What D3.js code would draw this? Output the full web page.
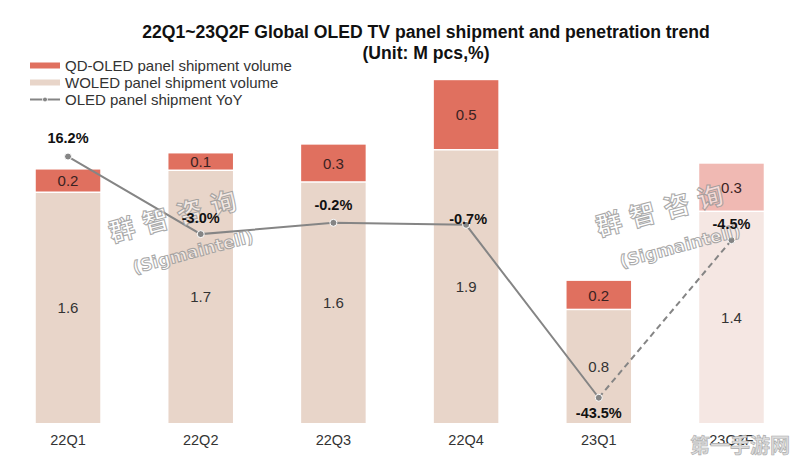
<!DOCTYPE html>
<html><head><meta charset="utf-8">
<script src="https://cdn.jsdelivr.net/npm/d3@7"></script>
<style>
html,body{margin:0;padding:0;background:#fff;}
svg{display:block;font-family:"Liberation Sans",Arial,sans-serif;}
</style></head>
<body><svg id="c" width="796" height="463"></svg>
<script>
const categories = ["22Q1","22Q2","22Q3","22Q4","23Q1","23Q2F"];
const woledValues = [1.57, 1.72, 1.64, 1.86, 0.77, 1.44];
const qdoledValues = [0.16, 0.12, 0.26, 0.48, 0.20, 0.33];
const yoyValues = [16.2, -3.0, -0.2, -0.7, -43.5, -4.5];
const forecast = [false,false,false,false,false,true];

const svg = d3.select("#c");

const x = d3.scaleBand().domain(categories).range([2.6, 796.9]).paddingInner(0.514).paddingOuter(0.25);
const y = d3.scaleLinear().domain([0, 2.5]).range([423, 423 - 2.5*146.5]);
const y2 = d3.scaleLinear().domain([-50, 20]).range([424, 141.2]);

const colQD = "#E0705F", colWO = "#E8D5C9", colQDf = "#F0B9B3", colWOf = "#F5E7E3";
const fmt = v => v.toFixed(1);

// Title
svg.append("text").attr("x", 426).attr("y", 38).attr("text-anchor","middle")
  .attr("font-size", 17.6).attr("font-weight","bold").attr("fill","#111")
  .text("22Q1~23Q2F Global OLED TV panel shipment and penetration trend");
svg.append("text").attr("x", 426).attr("y", 59).attr("text-anchor","middle")
  .attr("font-size", 17.6).attr("font-weight","bold").attr("fill","#111")
  .text("(Unit: M pcs,%)");

// Bars
const rows = categories.map((c,i)=>({c, wo: woledValues[i], qd: qdoledValues[i], f: forecast[i]}));
const gBars = svg.append("g");
gBars.selectAll("rect.wo").data(rows).join("rect").attr("class","wo")
  .attr("x", d=>x(d.c)).attr("width", x.bandwidth())
  .attr("y", d=>y(d.wo)).attr("height", d=>y(0)-y(d.wo))
  .attr("fill", d=>d.f?colWOf:colWO);
gBars.selectAll("rect.qd").data(rows).join("rect").attr("class","qd")
  .attr("x", d=>x(d.c)).attr("width", x.bandwidth())
  .attr("y", d=>y(d.wo+d.qd)).attr("height", d=>y(d.wo)-y(d.wo+d.qd)-1.5)
  .attr("fill", d=>d.f?colQDf:colQD);

gBars.selectAll("text.wo").data(rows).join("text").attr("class","wo")
  .attr("x", d=>x(d.c)+x.bandwidth()/2).attr("y", d=>(y(d.wo)+y(0))/2+5)
  .attr("text-anchor","middle").attr("font-size",15).attr("fill","#333")
  .text(d=>fmt(d.wo));
gBars.selectAll("text.qd").data(rows).join("text").attr("class","qd")
  .attr("x", d=>x(d.c)+x.bandwidth()/2).attr("y", d=>(y(d.wo)+y(d.wo+d.qd))/2+5)
  .attr("text-anchor","middle").attr("font-size",15).attr("fill","#3a2222")
  .text(d=>fmt(d.qd));

// Category axis
const ax = svg.append("g").attr("transform","translate(0,431)").call(d3.axisBottom(x).tickSize(0).tickPadding(4));
ax.select(".domain").remove();
ax.selectAll("text").attr("font-size",14.5).attr("fill","#333").attr("font-family","Liberation Sans, Arial, sans-serif");

// YoY line
const pts = categories.map((c,i)=>({c, v: yoyValues[i], px: x(c)+x.bandwidth()/2, py: y2(yoyValues[i])}));
const line = d3.line().x(d=>d.px).y(d=>d.py);
svg.append("path").attr("d", line(pts.slice(0,5))).attr("fill","none").attr("stroke","#858585").attr("stroke-width",2);
svg.append("path").attr("d", line(pts.slice(4))).attr("fill","none").attr("stroke","#858585").attr("stroke-width",2).attr("stroke-dasharray","6,4");
svg.selectAll("circle.pt").data(pts).join("circle").attr("class","pt")
  .attr("cx", d=>d.px).attr("cy", d=>d.py).attr("r",3.5)
  .attr("fill","#858585").attr("stroke","#fff").attr("stroke-width",1);

// Watermarks
function watermark(cx, cy){
  const g = svg.append("g").attr("transform",`translate(${cx},${cy}) rotate(-15)`).attr("opacity",0.85);
  g.append("text").attr("x",0).attr("y",-14).attr("text-anchor","middle")
    .attr("font-family","Noto Sans CJK SC").attr("font-weight","bold").attr("font-size",26)
    .attr("letter-spacing",9).attr("fill","#fff").attr("fill-opacity",0.6)
    .attr("stroke","#9a9a9a").attr("stroke-width",1).text("群智咨询");
  g.append("text").attr("x",6).attr("y",22).attr("text-anchor","middle")
    .attr("font-family","DejaVu Sans").attr("font-weight","bold").attr("font-size",17)
    .attr("fill","#fff").attr("fill-opacity",0.6)
    .attr("stroke","#9a9a9a").attr("stroke-width",1).text("(Sigmaintell)");
}
watermark(183, 238);
watermark(670, 232);

// YoY labels
const offs = [[0,-19],[0,-16],[0,-18],[2,-6],[0,15],[0,-16]];
svg.selectAll("text.yoy").data(pts).join("text").attr("class","yoy")
  .attr("x", (d,i)=>d.px+offs[i][0]).attr("y", (d,i)=>d.py+offs[i][1]+5)
  .attr("text-anchor","middle").attr("font-size",14.5).attr("font-weight","bold").attr("fill","#111")
  .text(d=>fmt(d.v)+"%");

// Legend
const legend = svg.append("g");
const legItems = ["QD-OLED panel shipment volume","WOLED panel shipment volume","OLED panel shipment YoY"];
legItems.forEach((t,i)=>{
  const ly = 65.5 + i*17;
  if(i<2){
    legend.append("rect").attr("x",30).attr("y",ly-3).attr("width",30).attr("height",6).attr("fill", i===0?colQD:colWO);
  } else {
    legend.append("line").attr("x1",30).attr("x2",60).attr("y1",ly).attr("y2",ly).attr("stroke","#858585").attr("stroke-width",2);
    legend.append("circle").attr("cx",45).attr("cy",ly).attr("r",2.5).attr("fill","#858585").attr("stroke","#fff").attr("stroke-width",1);
  }
  legend.append("text").attr("x",65).attr("y",ly+5).attr("font-size",15).attr("fill","#333").text(t);
});

// Site watermark
svg.append("text").attr("x",790).attr("y",453).attr("text-anchor","end")
  .attr("font-family","Noto Sans CJK SC").attr("font-weight","bold").attr("font-size",20)
  .attr("fill","#dcdcdc").attr("stroke","#aaa").attr("stroke-width",0.6).text("第一手游网");
</script></body></html>
